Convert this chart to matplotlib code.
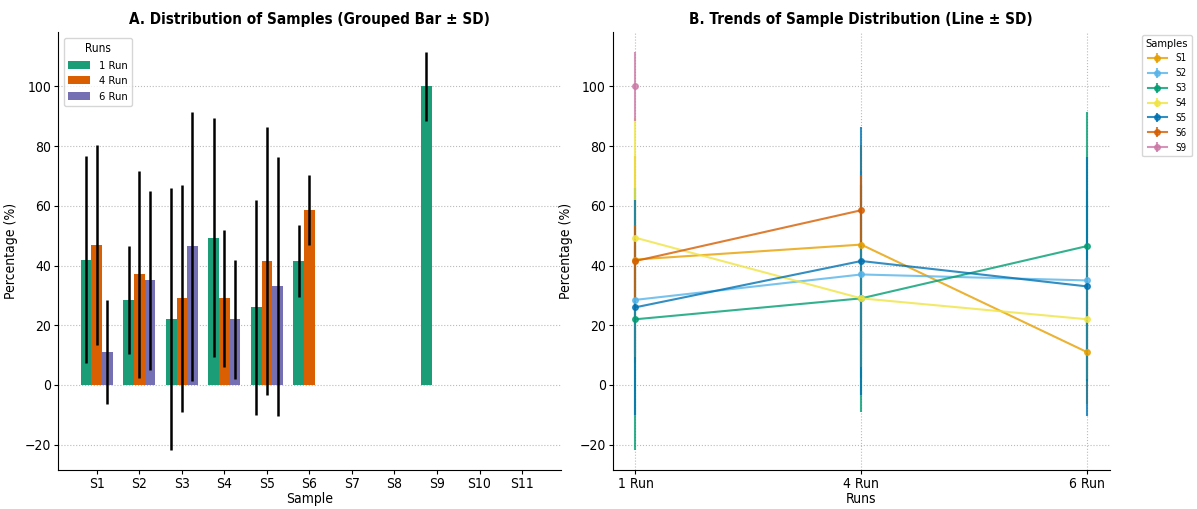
import matplotlib
matplotlib.use("Agg")
import matplotlib.pyplot as plt
import numpy as np

plt.rcParams['font.family'] = ['DejaVu Sans']
plt.rcParams['font.stretch'] = 'condensed'

samples = ["S1", "S2", "S3", "S4", "S5", "S6", "S7", "S8", "S9", "S10", "S11"]
runs = ["1 Run", "4 Run", "6 Run"]

# mean percentage per sample, per run (nan = no data)
mean_1run = [42.0, 28.5, 22.0, 49.3, 26.0, 41.5, np.nan, np.nan, 100.0, np.nan, np.nan]
mean_4run = [47.0, 37.0, 29.0, 29.0, 41.5, 58.5, np.nan, np.nan, np.nan, np.nan, np.nan]
mean_6run = [11.0, 35.0, 46.5, 22.0, 33.0, np.nan, np.nan, np.nan, np.nan, np.nan, np.nan]

sd_1run = [34.5, 18.0, 43.8, 40.0, 36.0, 12.0, np.nan, np.nan, 11.5, np.nan, np.nan]
sd_4run = [33.5, 34.5, 38.0, 23.0, 45.0, 11.8, np.nan, np.nan, np.nan, np.nan, np.nan]
sd_6run = [17.5, 30.0, 45.0, 20.0, 43.3, np.nan, np.nan, np.nan, np.nan, np.nan, np.nan]

bar_colors = ["#1b9e77", "#d95f02", "#7570b3"]
line_samples = ["S1", "S2", "S3", "S4", "S5", "S6", "S9"]
line_colors = ["#E69F00", "#56B4E9", "#009E73", "#F0E442", "#0072B2", "#D55E00", "#CC79A7"]

means = np.array([mean_1run, mean_4run, mean_6run])
sds = np.array([sd_1run, sd_4run, sd_6run])

fig = plt.figure(figsize=(11.97, 5.09), dpi=100)
ax1 = fig.add_axes([0.0485, 0.0766, 0.420, 0.8605])
ax2 = fig.add_axes([0.512, 0.0766, 0.415, 0.8605])

# ---- A: grouped bars
x = np.arange(len(samples))
w = 0.25
for i, run in enumerate(runs):
    ax1.bar(x + (i - 1) * w, np.nan_to_num(means[i]), w, color=bar_colors[i], label=run)
    ax1.errorbar(x + (i - 1) * w, means[i], yerr=sds[i], fmt="none",
                 ecolor="black", elinewidth=1.8, capsize=0)
ax1.set_xticks(x)
ax1.set_xticklabels(samples)
ax1.set_xlim(-0.91, 10.91)
ax1.set_xlabel("Sample", fontsize=10, labelpad=1)
ax1.set_ylabel("Percentage (%)", fontsize=10, labelpad=5)
ax1.set_title("A. Distribution of Samples (Grouped Bar ± SD)", fontsize=11, fontweight="bold")
ax1.yaxis.grid(True, linestyle=":", color="#bbbbbb", linewidth=0.8)
ax1.set_axisbelow(True)
ax1.legend(title="Runs", loc="upper left", fontsize=8, title_fontsize=8.5,
           borderaxespad=0.5)

# ---- B: lines with SD
xr = np.arange(len(runs))
for j, s in enumerate(line_samples):
    k = samples.index(s)
    ax2.errorbar(xr, means[:, k], yerr=sds[:, k], fmt="-o", color=line_colors[j],
                 markersize=4, linewidth=1.5, elinewidth=1.5, alpha=0.8, label=s)
ax2.set_xticks(xr)
ax2.set_xticklabels(runs)
ax2.set_xlabel("Runs", fontsize=10, labelpad=1)
ax2.set_ylabel("Percentage (%)", fontsize=10, labelpad=5)
ax2.set_title("B. Trends of Sample Distribution (Line ± SD)", fontsize=11, fontweight="bold")
ax2.grid(True, linestyle=":", color="#bbbbbb", linewidth=0.8)
ax2.set_axisbelow(True)
ax2.legend(title="Samples", loc="upper left", bbox_to_anchor=(1.055, 1.005),
           fontsize=7, title_fontsize=8)

ylim = ax1.get_ylim()
ax2.set_ylim(ylim)

for ax in (ax1, ax2):
    ax.spines["top"].set_visible(False)
    ax.spines["right"].set_visible(False)
    ax.tick_params(labelsize=10, length=3, pad=2)

fig.savefig("out.png", dpi=100)
